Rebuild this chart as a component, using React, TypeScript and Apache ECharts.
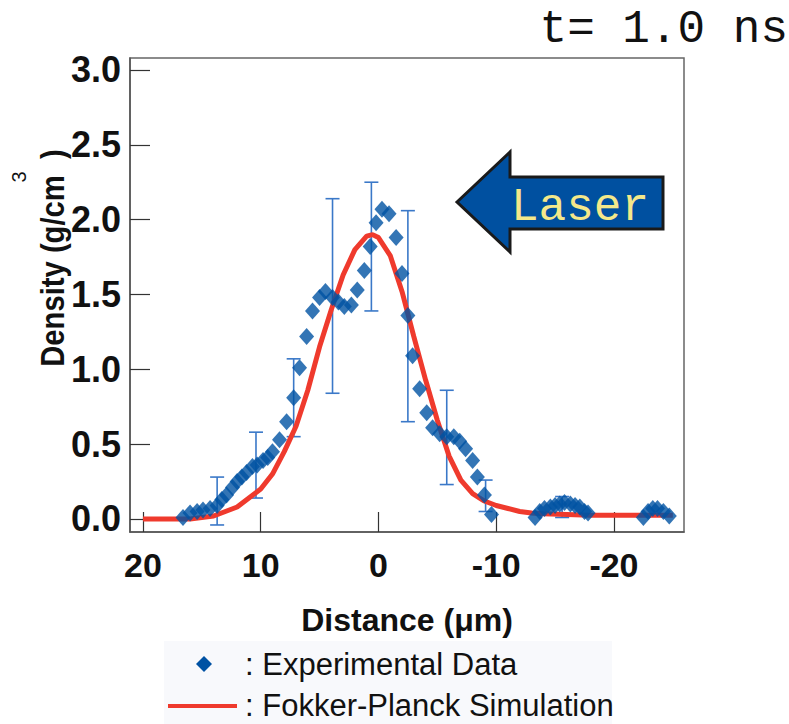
import React, { useEffect, useRef } from "react";
import * as echarts from "echarts";

const xTicks = [20, 10, 0, -10, -20];
const yTicks = [0, 0.5, 1.0, 1.5, 2.0, 2.5, 3.0];

const expX = [16.6, 16.0, 15.4, 14.9, 14.3, 13.7, 13.3, 12.9, 12.4, 12.0, 11.6, 11.2, 10.7, 10.3, 9.8, 9.4, 9.0, 8.4, 7.8, 7.2, 6.7, 6.1, 5.6, 5.0, 4.5, 3.9, 3.4, 2.9, 2.3, 1.8, 1.2, 0.7, 0.2, -0.3, -0.9, -1.5, -2.0, -2.5, -2.9, -3.5, -4.1, -4.6, -5.2, -5.8, -6.4, -6.9, -7.4, -8.0, -8.4, -9.0, -9.6, -13.3, -13.7, -14.1, -14.6, -15.0, -15.4, -15.8, -16.3, -16.7, -17.1, -17.5, -17.8, -22.5, -22.9, -23.3, -23.7, -24.2, -24.7];
const expY = [0.01, 0.04, 0.05, 0.06, 0.07, 0.09, 0.13, 0.16, 0.21, 0.25, 0.28, 0.31, 0.35, 0.36, 0.39, 0.41, 0.45, 0.53, 0.65, 0.81, 1.01, 1.22, 1.39, 1.48, 1.52, 1.48, 1.45, 1.42, 1.43, 1.53, 1.66, 1.82, 1.98, 2.07, 2.04, 1.88, 1.64, 1.36, 1.09, 0.87, 0.71, 0.61, 0.57, 0.55, 0.55, 0.52, 0.47, 0.39, 0.28, 0.16, 0.03, 0.01, 0.05, 0.07, 0.08, 0.09, 0.10, 0.11, 0.10, 0.09, 0.08, 0.05, 0.04, 0.01, 0.05, 0.07, 0.07, 0.05, 0.02];

const simX = [20, 18, 16, 15, 14, 13, 12, 11, 10, 9, 8, 7, 6, 5, 4, 3, 2, 1, 0.5, 0, -1, -2, -3, -4, -5, -6, -7, -8, -9, -10, -11, -12, -13, -14, -16, -18, -20, -22, -25];
const simY = [0.0, 0.0, 0.0, 0.01, 0.02, 0.05, 0.08, 0.14, 0.2, 0.3, 0.45, 0.62, 0.86, 1.15, 1.4, 1.63, 1.8, 1.89, 1.9, 1.88, 1.76, 1.52, 1.22, 0.93, 0.66, 0.42, 0.26, 0.17, 0.12, 0.09, 0.07, 0.05, 0.04, 0.035, 0.03, 0.025, 0.025, 0.025, 0.025];

const errX = [13.7, 10.4, 7.2, 3.9, 0.6, -2.5, -5.8, -9.1, -15.6];
const errLow = [-0.04, 0.14, 0.55, 0.84, 1.39, 0.65, 0.23, 0.05, 0.01];
const errHigh = [0.28, 0.58, 1.07, 2.14, 2.25, 2.06, 0.86, 0.26, 0.15];

const SANS = "'Liberation Sans', Arial, sans-serif";
const MONO = "'Liberation Mono', 'Courier New', monospace";

export default function App() {
  const ref = useRef<HTMLDivElement>(null);
  useEffect(() => {
    const chart = echarts.init(ref.current!, null, { renderer: "svg" });
    const option: any = {
      animation: false,
      backgroundColor: "#ffffff",
      grid: {
        left: 130,
        right: 105,
        top: 58,
        bottom: 192,
        show: true,
        borderColor: "#666",
        borderWidth: 1.5,
      },
      xAxis: {
        type: "value",
        inverse: true,
        min: -25.95,
        max: 21.1,
        splitLine: { show: false },
        axisLine: { show: true, onZero: false, lineStyle: { color: "#555", width: 1.5 } },
        axisTick: {
          show: true,
          inside: true,
          length: 20,
          customValues: xTicks,
          lineStyle: { color: "#333", width: 1.2 },
        },
        axisLabel: {
          customValues: xTicks,
          formatter: (v: number) => String(v),
          fontFamily: SANS,
          fontWeight: "bold",
          fontSize: 34,
          color: "#111",
          margin: 16,
        },
        name: "Distance (μm)",
        nameLocation: "middle",
        nameGap: 72,
        nameTextStyle: { fontFamily: SANS, fontWeight: "bold", fontSize: 32, color: "#111" },
      },
      yAxis: {
        type: "value",
        min: -0.087,
        max: 3.08,
        splitLine: { show: false },
        axisLine: { show: true, onZero: false, lineStyle: { color: "#555", width: 1.5 } },
        axisTick: {
          show: true,
          inside: true,
          length: 20,
          customValues: yTicks,
          lineStyle: { color: "#333", width: 1.2 },
        },
        axisLabel: {
          customValues: yTicks,
          formatter: (v: number) => v.toFixed(1),
          fontFamily: SANS,
          fontWeight: "bold",
          fontSize: 36,
          color: "#111",
          margin: 9,
        },
      },
      series: [
        {
          type: "custom",
          name: "err",
          data: errX.map((x, i) => [x, errLow[i], errHigh[i]]),
          encode: { x: 0, y: [1, 2] },
          z: 1,
          renderItem: (params: any, api: any) => {
            const x = api.value(0);
            const lo = api.coord([x, api.value(1)]);
            const hi = api.coord([x, api.value(2)]);
            const w = 7;
            const st = { stroke: "#3a78c8", lineWidth: 1.6 };
            return {
              type: "group",
              children: [
                { type: "line", shape: { x1: lo[0], y1: lo[1], x2: hi[0], y2: hi[1] }, style: st },
                { type: "line", shape: { x1: lo[0] - w, y1: lo[1], x2: lo[0] + w, y2: lo[1] }, style: st },
                { type: "line", shape: { x1: hi[0] - w, y1: hi[1], x2: hi[0] + w, y2: hi[1] }, style: st },
              ],
            };
          },
        },
        {
          type: "line",
          name: "Fokker-Planck Simulation",
          data: simX.map((x, i) => [x, simY[i]]),
          showSymbol: false,
          symbol: "none",
          lineStyle: { color: "#ef3a2d", width: 5 },
          z: 2,
        },
        {
          type: "scatter",
          name: "Experimental Data",
          data: expX.map((x, i) => [x, expY[i]]),
          symbol: "diamond",
          symbolSize: [15, 17],
          itemStyle: { color: "#0052a3" },
          z: 3,
        },
      ],
      graphic: [
        {
          type: "text",
          x: 52,
          y: 258,
          rotation: Math.PI / 2,
          scaleX: 0.86,
          style: {
            text: "Density (g/cm  )",
            font: `bold 34px ${SANS}`,
            fill: "#111",
            textAlign: "center",
            textVerticalAlign: "middle",
          },
        },
        {
          type: "text",
          x: 19,
          y: 177,
          rotation: Math.PI / 2,
          style: {
            text: "3",
            font: `20px ${SANS}`,
            fill: "#111",
            textAlign: "center",
            textVerticalAlign: "middle",
          },
        },
        {
          type: "text",
          x: 788,
          y: 30,
          style: {
            text: "t= 1.0 ns",
            font: `46px ${MONO}`,
            fill: "#111",
            textAlign: "right",
            textVerticalAlign: "middle",
          },
        },
        {
          type: "polygon",
          shape: {
            points: [
              [457, 202],
              [510, 152],
              [510, 177],
              [663, 177],
              [663, 229],
              [510, 229],
              [510, 252],
            ],
          },
          style: { fill: "#0050a0", stroke: "#1a1a1a", lineWidth: 3 },
          z: 10,
        },
        {
          type: "text",
          x: 580,
          y: 208,
          style: {
            text: "Laser",
            font: `46px ${MONO}`,
            fill: "#f4e88a",
            textAlign: "center",
            textVerticalAlign: "middle",
          },
          z: 11,
        },
        {
          type: "rect",
          shape: { x: 164, y: 641, width: 448, height: 83 },
          style: { fill: "#f8f9fc" },
          z: 5,
        },
        {
          type: "polygon",
          shape: { points: [[204, 656], [212, 664], [204, 672], [196, 664]] },
          style: { fill: "#0052a3" },
          z: 6,
        },
        {
          type: "line",
          shape: { x1: 168, y1: 706, x2: 237, y2: 706 },
          style: { stroke: "#ef3a2d", lineWidth: 4 },
          z: 6,
        },
        {
          type: "text",
          x: 245,
          y: 664,
          style: {
            text: ": Experimental Data",
            font: `31px ${SANS}`,
            fill: "#111",
            textAlign: "left",
            textVerticalAlign: "middle",
          },
          z: 6,
        },
        {
          type: "text",
          x: 245,
          y: 705,
          style: {
            text: ": Fokker-Planck Simulation",
            font: `31px ${SANS}`,
            fill: "#111",
            textAlign: "left",
            textVerticalAlign: "middle",
          },
          z: 6,
        },
      ],
    };
    chart.setOption(option);
    return () => chart.dispose();
  }, []);
  return <div ref={ref} style={{ width: 789, height: 724, position: "absolute", left: 0, top: 0 }} />;
}
